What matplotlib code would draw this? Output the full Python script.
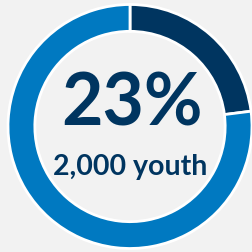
import matplotlib
matplotlib.use("Agg")
import matplotlib.pyplot as plt

labels = ["Youth", "Other"]
values = [23, 77]
colors = ["#003560", "#0079c1"]
big_label = "23%"
sub_label = "2,000 youth"

bg = "#f2f2f2"
fig = plt.figure(figsize=(2.52, 2.52), dpi=100, facecolor=bg)
ax = fig.add_axes([0, 0, 1, 1])
ax.set_facecolor(bg)

ax.pie(values, colors=colors, startangle=90, counterclock=False, radius=1.0,
       wedgeprops=dict(width=0.22, edgecolor="white", linewidth=2))

s = 122.0
ax.set_xlim(-130 / s, (252 - 130) / s)
ax.set_ylim(-125.5 / s, 126.5 / s)
ax.set_aspect("equal")
ax.axis("off")

ax.text(0.02, 0.012, big_label, ha="center", va="baseline", fontsize=51.5,
        fontweight="bold", color="#003560", family=["Lato", "DejaVu Sans"])
ax.text(0.0, -0.398, sub_label, ha="center", va="baseline", fontsize=20.5,
        fontweight="bold", color="#003560", family=["Lato", "DejaVu Sans"])

fig.savefig("out.png", dpi=100, facecolor=bg)
